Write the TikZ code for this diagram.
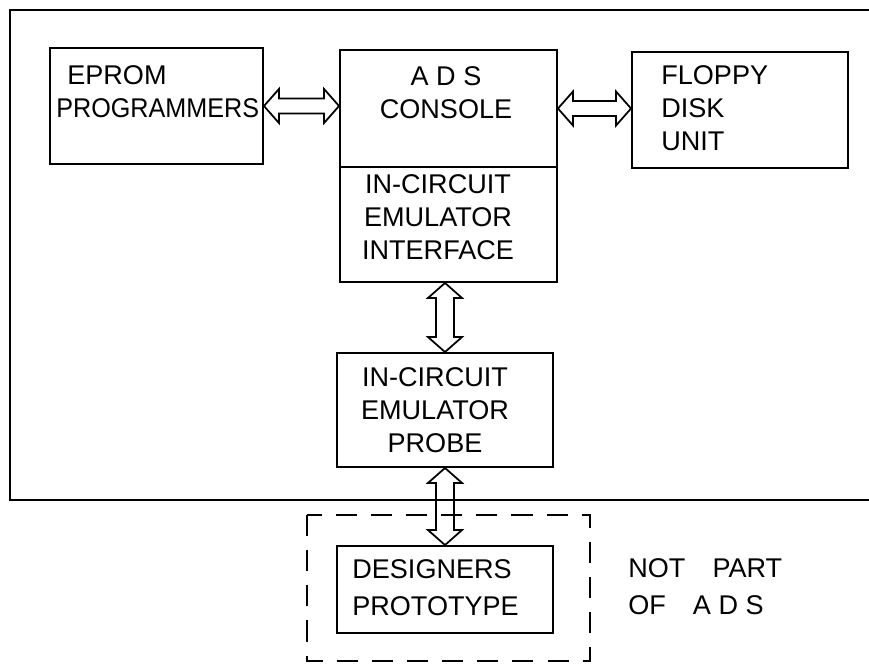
\documentclass[tikz,border=0pt]{standalone}
\usepackage{graphicx}
\usepackage{fontspec}
\setmainfont{Liberation Sans}
\usetikzlibrary{fit,calc}

\tikzset{
  block/.style={draw, line width=1.1pt, inner sep=0pt},
  frame/.style={line width=1.3pt},
  outline/.style={line width=1.1pt, dash pattern=on 12pt off 8pt},
  lettering/.style={inner sep=0pt, font=\fontsize{15.4pt}{18.7pt}\selectfont},
  busarrow/.style={line width=1pt, line join=miter},
}

% hollow double arrow, #1 left tip, #2 right tip
\newcommand{\hbus}[2]{%
  \draw[busarrow] (#1) -- ($(#1)+(15,-17)$) -- ($(#1)+(15,-7.5)$)
    -- ($(#2)+(-15,-7.5)$) -- ($(#2)+(-15,-17)$) -- (#2)
    -- ($(#2)+(-15,17)$) -- ($(#2)+(-15,7.5)$)
    -- ($(#1)+(15,7.5)$) -- ($(#1)+(15,17)$) -- cycle;}
% hollow double arrow, #1 top tip, #2 bottom tip
\newcommand{\vbus}[2]{%
  \draw[busarrow] (#1) -- ($(#1)+(17,15)$) -- ($(#1)+(9,15)$)
    -- ($(#2)+(9,-15)$) -- ($(#2)+(17,-15)$) -- (#2)
    -- ($(#2)+(-17,-15)$) -- ($(#2)+(-9,-15)$)
    -- ($(#1)+(-9,15)$) -- ($(#1)+(-17,15)$) -- cycle;}

\begin{document}
\begin{tikzpicture}[x=0.02cm, y=-0.02cm]
    \useasboundingbox (0,0) rectangle (869,663);

    % ADS system boundary (open to the right)
    \draw[frame] (869,10) -- (10,10) -- (10,500) -- (869,500);

    % boxes
    \node[block, fit={(50,48) (263,164)}] (eprom) {};
    \node[block, fit={(340,50) (557,167)}] (console) {};
    \node[block, fit={(340,167) (557,282)}] (interface) {};
    \node[block, fit={(632,52) (848,168)}] (floppy) {};
    \node[block, fit={(337,353) (553,467)}] (probe) {};
    \node[block, fit={(337,546) (553,633)}] (prototype) {};

    % user side, outside the system
    \draw[outline] (307,515) rectangle (590,661);

    % box texts
    \node[lettering, align=left, anchor=west] (eprom-text) at (56,91.5)
        {\hspace*{0.22cm}EPROM\\\scalebox{0.93}[1]{PROGRAMMERS}};
    \node[lettering, align=center] (console-text) at (446,92.5)
        {A D S\\CONSOLE};
    \node[lettering, align=center] (interface-text) at (438,217.5)
        {IN-CIRCUIT\\EMULATOR\\INTERFACE};
    \node[lettering, align=left, anchor=west] (floppy-text) at (661,108)
        {FLOPPY\\DISK\\UNIT};
    \node[lettering, align=center] (probe-text) at (435,410)
        {IN-CIRCUIT\\EMULATOR\\PROBE};
    \node[lettering, align=left, anchor=west, font=\fontsize{15.4pt}{21pt}\selectfont]
        (prototype-text) at (352,587.5) {DESIGNERS\\PROTOTYPE};
    \node[lettering, align=left, anchor=west, font=\fontsize{15.4pt}{21pt}\selectfont]
        (outside-text) at (628,587) {NOT\quad PART\\OF\quad A D S};

    % bus connections
    \coordinate (c1) at (eprom.east -| console.west);
    \coordinate (c2) at (console.east -| floppy.west);
    \coordinate (c3) at (probe.north |- interface.south);
    \hbus{eprom.east}{c1}
    \hbus{console.east}{c2}
    \vbus{c3}{probe.north}
    \vbus{probe.south}{prototype.north}
\end{tikzpicture}
\end{document}
